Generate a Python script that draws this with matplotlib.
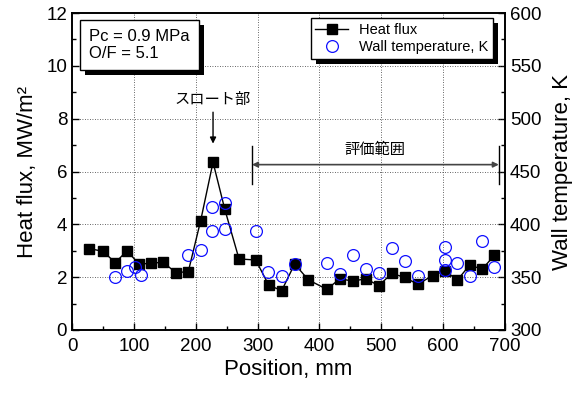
# Heat flux and wall temperature along the chamber
import numpy as np
import matplotlib
matplotlib.use('Agg')
import matplotlib.pyplot as plt
from matplotlib.ticker import MultipleLocator
import matplotlib.patheffects as pe

plt.rcParams['font.family'] = ['Liberation Sans', 'Noto Sans CJK JP']

# Heat flux [MW/m2] vs position [mm]
hf_x = [28, 50, 70, 89, 108, 127, 147, 168, 188, 208, 228, 247, 270, 297, 318, 339,
        360, 382, 412, 433, 454, 475, 496, 517, 538, 559, 583, 603, 623, 643, 663, 683]
hf_y = [3.08, 2.98, 2.55, 3.0, 2.5, 2.52, 2.57, 2.17, 2.21, 4.14, 6.35, 4.57, 2.69, 2.65, 1.70, 1.49,
        2.5, 1.9, 1.54, 1.94, 1.85, 1.94, 1.68, 2.14, 1.99, 1.73, 2.06, 2.24, 1.89, 2.46, 2.30, 2.83]

# Wall temperature [K] vs position [mm]
wt_x = [70, 89, 102, 112, 188, 208, 227, 227, 247, 247, 297, 317, 339, 360, 412, 433,
        454, 475, 496, 517, 538, 559, 603, 603, 603, 623, 643, 663, 683]
wt_y = [350, 356, 360, 352.5, 371, 376, 416, 394, 420, 396, 394, 355, 351, 362, 363, 353,
        371, 358, 354, 378, 365, 351, 379, 366, 357, 363, 351, 384, 360]

fig = plt.figure(figsize=(5.84, 4.0), dpi=100)
ax = fig.add_axes([0.1233, 0.175, 0.7414, 0.7925])
ax2 = ax.twinx()

ax.set_zorder(ax2.get_zorder() + 1)
ax.patch.set_visible(False)

l1, = ax.plot(hf_x, hf_y, 'k-', lw=1, marker='s', ms=7, mfc='k', mec='k',
              label='Heat flux')
l2, = ax.plot(wt_x, [(t - 300) / 25.0 for t in wt_y], ls='none', marker='o', ms=8.5,
              mfc='none', mec='#1010ff', mew=0.9, label='Wall temperature, K')

ax.set_xlim(0, 700)
ax.set_ylim(0, 12)
ax2.set_ylim(300, 600)

ax.xaxis.set_major_locator(MultipleLocator(100))
ax.xaxis.set_minor_locator(MultipleLocator(50))
ax.yaxis.set_major_locator(MultipleLocator(2))
ax.yaxis.set_minor_locator(MultipleLocator(1))
ax2.yaxis.set_major_locator(MultipleLocator(50))
ax2.yaxis.set_minor_locator(MultipleLocator(25))

ax.tick_params(which='both', direction='in', labelsize=13.5, top=False, right=False)
ax.tick_params(which='major', length=5, width=1)
ax.tick_params(which='minor', length=3, width=1)
ax.tick_params(axis='x', pad=6)
ax2.tick_params(which='both', direction='in', labelsize=13.5)
ax2.tick_params(which='major', length=5, width=1)
ax2.tick_params(which='minor', length=3, width=1)

for a in (ax, ax2):
    for s in a.spines.values():
        s.set_linewidth(1.2)

ax.grid(True, which='major', ls=(0, (1, 2)), color='#333333', lw=0.6)

ax.set_xlabel('Position, mm', fontsize=16, labelpad=3)
ax.set_ylabel('Heat flux, MW/m²', fontsize=16, labelpad=6)
ax2.set_ylabel('Wall temperature, K', fontsize=16, labelpad=8)

shadow = [pe.SimplePatchShadow(offset=(3.5, -3.5), shadow_rgbFace='k', alpha=1), pe.Normal()]

leg = ax.legend(handles=[l1, l2], loc='upper right', bbox_to_anchor=(0.972, 0.983),
                borderaxespad=0, fontsize=10.5, fancybox=False, framealpha=1, edgecolor='k',
                borderpad=0.3, labelspacing=0.25, handlelength=2.2)
leg.get_frame().set_linewidth(1)
leg.get_frame().set_path_effects(shadow)

t = ax.text(0.04, 0.95, 'Pc = 0.9 MPa\nO/F = 5.1', transform=ax.transAxes,
            fontsize=12, va='top', ha='left', linespacing=1.2,
            bbox=dict(boxstyle='square,pad=0.55', fc='w', ec='k', lw=1))
t.get_bbox_patch().set_path_effects(shadow)

# throat annotation
ax.text(228, 8.7, 'スロート部', fontsize=11, ha='center', va='center')
ax.annotate('', xy=(228, 6.95), xytext=(228, 8.35),
            arrowprops=dict(arrowstyle='-|>', color='k', lw=1, mutation_scale=9))

# evaluation range
ax.annotate('', xy=(291, 6.26), xytext=(690, 6.26),
            arrowprops=dict(arrowstyle='<|-|>', color='#444444', lw=1.2, mutation_scale=8,
                            shrinkA=0, shrinkB=0))
ax.plot([291, 291], [5.54, 6.98], color='k', lw=1)
ax.plot([690, 690], [5.54, 6.98], color='k', lw=1)
ax.text(490, 6.8, '評価範囲', fontsize=11, ha='center', va='center')

fig.savefig('out.png', dpi=100)
